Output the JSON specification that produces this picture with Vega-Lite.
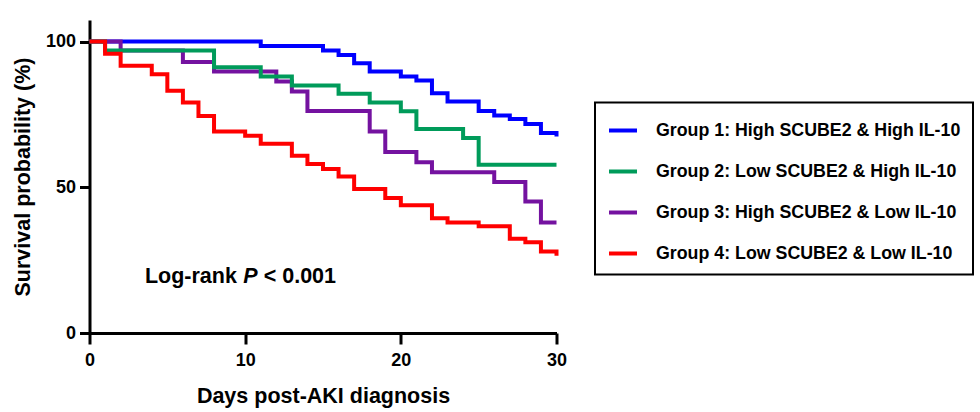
{
  "$schema": "https://vega.github.io/schema/vega-lite/v6.json",
  "width": 467,
  "height": 313,
  "autosize": {"type": "none"},
  "padding": {"left": 89.5, "top": 20, "right": 423.5, "bottom": 79},
  "background": "white",
  "config": {
    "view": {"stroke": null},
    "font": "Liberation Sans",
    "axis": {
      "grid": false,
      "domainColor": "black",
      "domainWidth": 3,
      "tickColor": "black",
      "tickWidth": 3,
      "labelFont": "Liberation Sans",
      "labelFontSize": 18,
      "labelFontWeight": "bold",
      "labelColor": "black",
      "titleFont": "Liberation Sans",
      "titleFontSize": 21.5,
      "titleFontWeight": "bold",
      "titleColor": "black"
    }
  },
  "layer": [
    {
      "data": {
        "values": [
          {"group": "Group 1: High SCUBE2 & High IL-10", "day": 0, "surv": 100},
          {"group": "Group 1: High SCUBE2 & High IL-10", "day": 11, "surv": 98.5},
          {"group": "Group 1: High SCUBE2 & High IL-10", "day": 15, "surv": 96.9},
          {"group": "Group 1: High SCUBE2 & High IL-10", "day": 16, "surv": 95.4},
          {"group": "Group 1: High SCUBE2 & High IL-10", "day": 17, "surv": 92.6},
          {"group": "Group 1: High SCUBE2 & High IL-10", "day": 18, "surv": 89.7},
          {"group": "Group 1: High SCUBE2 & High IL-10", "day": 20, "surv": 88.0},
          {"group": "Group 1: High SCUBE2 & High IL-10", "day": 21, "surv": 86.6},
          {"group": "Group 1: High SCUBE2 & High IL-10", "day": 22, "surv": 82.3},
          {"group": "Group 1: High SCUBE2 & High IL-10", "day": 23, "surv": 79.4},
          {"group": "Group 1: High SCUBE2 & High IL-10", "day": 25, "surv": 76.2},
          {"group": "Group 1: High SCUBE2 & High IL-10", "day": 26, "surv": 74.6},
          {"group": "Group 1: High SCUBE2 & High IL-10", "day": 27, "surv": 73.4},
          {"group": "Group 1: High SCUBE2 & High IL-10", "day": 28, "surv": 71.7},
          {"group": "Group 1: High SCUBE2 & High IL-10", "day": 29, "surv": 68.6},
          {"group": "Group 1: High SCUBE2 & High IL-10", "day": 30, "surv": 67.4},
          {"group": "Group 3: High SCUBE2 & Low IL-10", "day": 0, "surv": 100},
          {"group": "Group 3: High SCUBE2 & Low IL-10", "day": 2, "surv": 96.9},
          {"group": "Group 3: High SCUBE2 & Low IL-10", "day": 6, "surv": 93.0},
          {"group": "Group 3: High SCUBE2 & Low IL-10", "day": 8, "surv": 89.7},
          {"group": "Group 3: High SCUBE2 & Low IL-10", "day": 12, "surv": 86.3},
          {"group": "Group 3: High SCUBE2 & Low IL-10", "day": 13, "surv": 82.9},
          {"group": "Group 3: High SCUBE2 & Low IL-10", "day": 14, "surv": 76.2},
          {"group": "Group 3: High SCUBE2 & Low IL-10", "day": 18, "surv": 69.1},
          {"group": "Group 3: High SCUBE2 & Low IL-10", "day": 19, "surv": 62.1},
          {"group": "Group 3: High SCUBE2 & Low IL-10", "day": 21, "surv": 58.6},
          {"group": "Group 3: High SCUBE2 & Low IL-10", "day": 22, "surv": 55.2},
          {"group": "Group 3: High SCUBE2 & Low IL-10", "day": 26, "surv": 51.8},
          {"group": "Group 3: High SCUBE2 & Low IL-10", "day": 28, "surv": 45.1},
          {"group": "Group 3: High SCUBE2 & Low IL-10", "day": 29, "surv": 37.9},
          {"group": "Group 3: High SCUBE2 & Low IL-10", "day": 30, "surv": 37.9},
          {"group": "Group 2: Low SCUBE2 & High IL-10", "day": 0, "surv": 100},
          {"group": "Group 2: Low SCUBE2 & High IL-10", "day": 1, "surv": 96.9},
          {"group": "Group 2: Low SCUBE2 & High IL-10", "day": 8, "surv": 91.2},
          {"group": "Group 2: Low SCUBE2 & High IL-10", "day": 11, "surv": 88.0},
          {"group": "Group 2: Low SCUBE2 & High IL-10", "day": 13, "surv": 84.9},
          {"group": "Group 2: Low SCUBE2 & High IL-10", "day": 16, "surv": 82.1},
          {"group": "Group 2: Low SCUBE2 & High IL-10", "day": 18, "surv": 79.1},
          {"group": "Group 2: Low SCUBE2 & High IL-10", "day": 20, "surv": 76.1},
          {"group": "Group 2: Low SCUBE2 & High IL-10", "day": 21, "surv": 70.0},
          {"group": "Group 2: Low SCUBE2 & High IL-10", "day": 24, "surv": 66.9},
          {"group": "Group 2: Low SCUBE2 & High IL-10", "day": 25, "surv": 57.7},
          {"group": "Group 2: Low SCUBE2 & High IL-10", "day": 30, "surv": 57.7},
          {"group": "Group 4: Low SCUBE2 & Low IL-10", "day": 0, "surv": 100},
          {"group": "Group 4: Low SCUBE2 & Low IL-10", "day": 1, "surv": 95.8},
          {"group": "Group 4: Low SCUBE2 & Low IL-10", "day": 2, "surv": 91.7},
          {"group": "Group 4: Low SCUBE2 & Low IL-10", "day": 4, "surv": 88.8},
          {"group": "Group 4: Low SCUBE2 & Low IL-10", "day": 5, "surv": 83.1},
          {"group": "Group 4: Low SCUBE2 & Low IL-10", "day": 6, "surv": 79.1},
          {"group": "Group 4: Low SCUBE2 & Low IL-10", "day": 7, "surv": 74.5},
          {"group": "Group 4: Low SCUBE2 & Low IL-10", "day": 8, "surv": 69.1},
          {"group": "Group 4: Low SCUBE2 & Low IL-10", "day": 10, "surv": 67.7},
          {"group": "Group 4: Low SCUBE2 & Low IL-10", "day": 11, "surv": 64.9},
          {"group": "Group 4: Low SCUBE2 & Low IL-10", "day": 13, "surv": 60.8},
          {"group": "Group 4: Low SCUBE2 & Low IL-10", "day": 14, "surv": 58.0},
          {"group": "Group 4: Low SCUBE2 & Low IL-10", "day": 15, "surv": 56.3},
          {"group": "Group 4: Low SCUBE2 & Low IL-10", "day": 16, "surv": 53.7},
          {"group": "Group 4: Low SCUBE2 & Low IL-10", "day": 17, "surv": 49.4},
          {"group": "Group 4: Low SCUBE2 & Low IL-10", "day": 19, "surv": 46.3},
          {"group": "Group 4: Low SCUBE2 & Low IL-10", "day": 20, "surv": 43.8},
          {"group": "Group 4: Low SCUBE2 & Low IL-10", "day": 22, "surv": 39.4},
          {"group": "Group 4: Low SCUBE2 & Low IL-10", "day": 23, "surv": 37.9},
          {"group": "Group 4: Low SCUBE2 & Low IL-10", "day": 25, "surv": 36.6},
          {"group": "Group 4: Low SCUBE2 & Low IL-10", "day": 27, "surv": 32.3},
          {"group": "Group 4: Low SCUBE2 & Low IL-10", "day": 28, "surv": 31.1},
          {"group": "Group 4: Low SCUBE2 & Low IL-10", "day": 29, "surv": 28.0},
          {"group": "Group 4: Low SCUBE2 & Low IL-10", "day": 30, "surv": 26.5}
        ]
      },
      "mark": {"type": "line", "interpolate": "step-after", "strokeWidth": 4},
      "encoding": {
        "x": {
          "field": "day",
          "type": "quantitative",
          "scale": {"domain": [0, 30], "nice": false},
          "axis": {
            "title": "Days post-AKI diagnosis",
            "values": [0, 10, 20, 30],
            "tickSize": 11,
            "labelPadding": 7,
            "titlePadding": 16,
            "labelFlush": false
          }
        },
        "y": {
          "field": "surv",
          "type": "quantitative",
          "scale": {"domain": [0, 107.4], "nice": false},
          "axis": {
            "title": "Survival probability (%)",
            "values": [0, 50, 100],
            "tickSize": 10,
            "labelPadding": 4,
            "titlePadding": 11,
            "labelFlush": false
          }
        },
        "color": {
          "field": "group",
          "type": "nominal",
          "scale": {
            "domain": [
              "Group 1: High SCUBE2 & High IL-10",
              "Group 2: Low SCUBE2 & High IL-10",
              "Group 3: High SCUBE2 & Low IL-10",
              "Group 4: Low SCUBE2 & Low IL-10"
            ],
            "range": ["#0000FF", "#009B5A", "#7412A0", "#FF0000"]
          },
          "legend": {
            "title": null,
            "orient": "none",
            "legendX": 505.5,
            "legendY": 82.5,
            "symbolType": "stroke",
            "symbolSize": 784,
            "symbolStrokeWidth": 4,
            "labelFont": "Liberation Sans",
            "labelFontSize": 17.8,
            "labelFontWeight": "bold",
            "labelColor": "black",
            "labelLimit": 500,
            "labelOffset": 17,
            "rowPadding": 16,
            "padding": 12,
            "strokeColor": "black",
            "encode": {"legend": {"update": {"strokeWidth": {"value": 2}}}}
          }
        }
      }
    },
    {
      "data": {"values": [{"part": "Log-rank"}]},
      "mark": {"type": "text", "align": "left", "baseline": "alphabetic", "fontSize": 21.5, "fontWeight": "bold", "font": "Liberation Sans", "color": "black"},
      "encoding": {
        "x": {"datum": 3.56, "type": "quantitative"},
        "y": {"datum": 17.25, "type": "quantitative"},
        "text": {"field": "part"}
      }
    },
    {
      "data": {"values": [{"part": "P"}]},
      "mark": {"type": "text", "align": "left", "baseline": "alphabetic", "fontSize": 21.5, "fontWeight": "bold", "fontStyle": "italic", "font": "Liberation Sans", "color": "black"},
      "encoding": {
        "x": {"datum": 9.88, "type": "quantitative"},
        "y": {"datum": 17.25, "type": "quantitative"},
        "text": {"field": "part"}
      }
    },
    {
      "data": {"values": [{"part": "< 0.001"}]},
      "mark": {"type": "text", "align": "left", "baseline": "alphabetic", "fontSize": 21.5, "fontWeight": "bold", "font": "Liberation Sans", "color": "black"},
      "encoding": {
        "x": {"datum": 11.19, "type": "quantitative"},
        "y": {"datum": 17.25, "type": "quantitative"},
        "text": {"field": "part"}
      }
    }
  ]
}
